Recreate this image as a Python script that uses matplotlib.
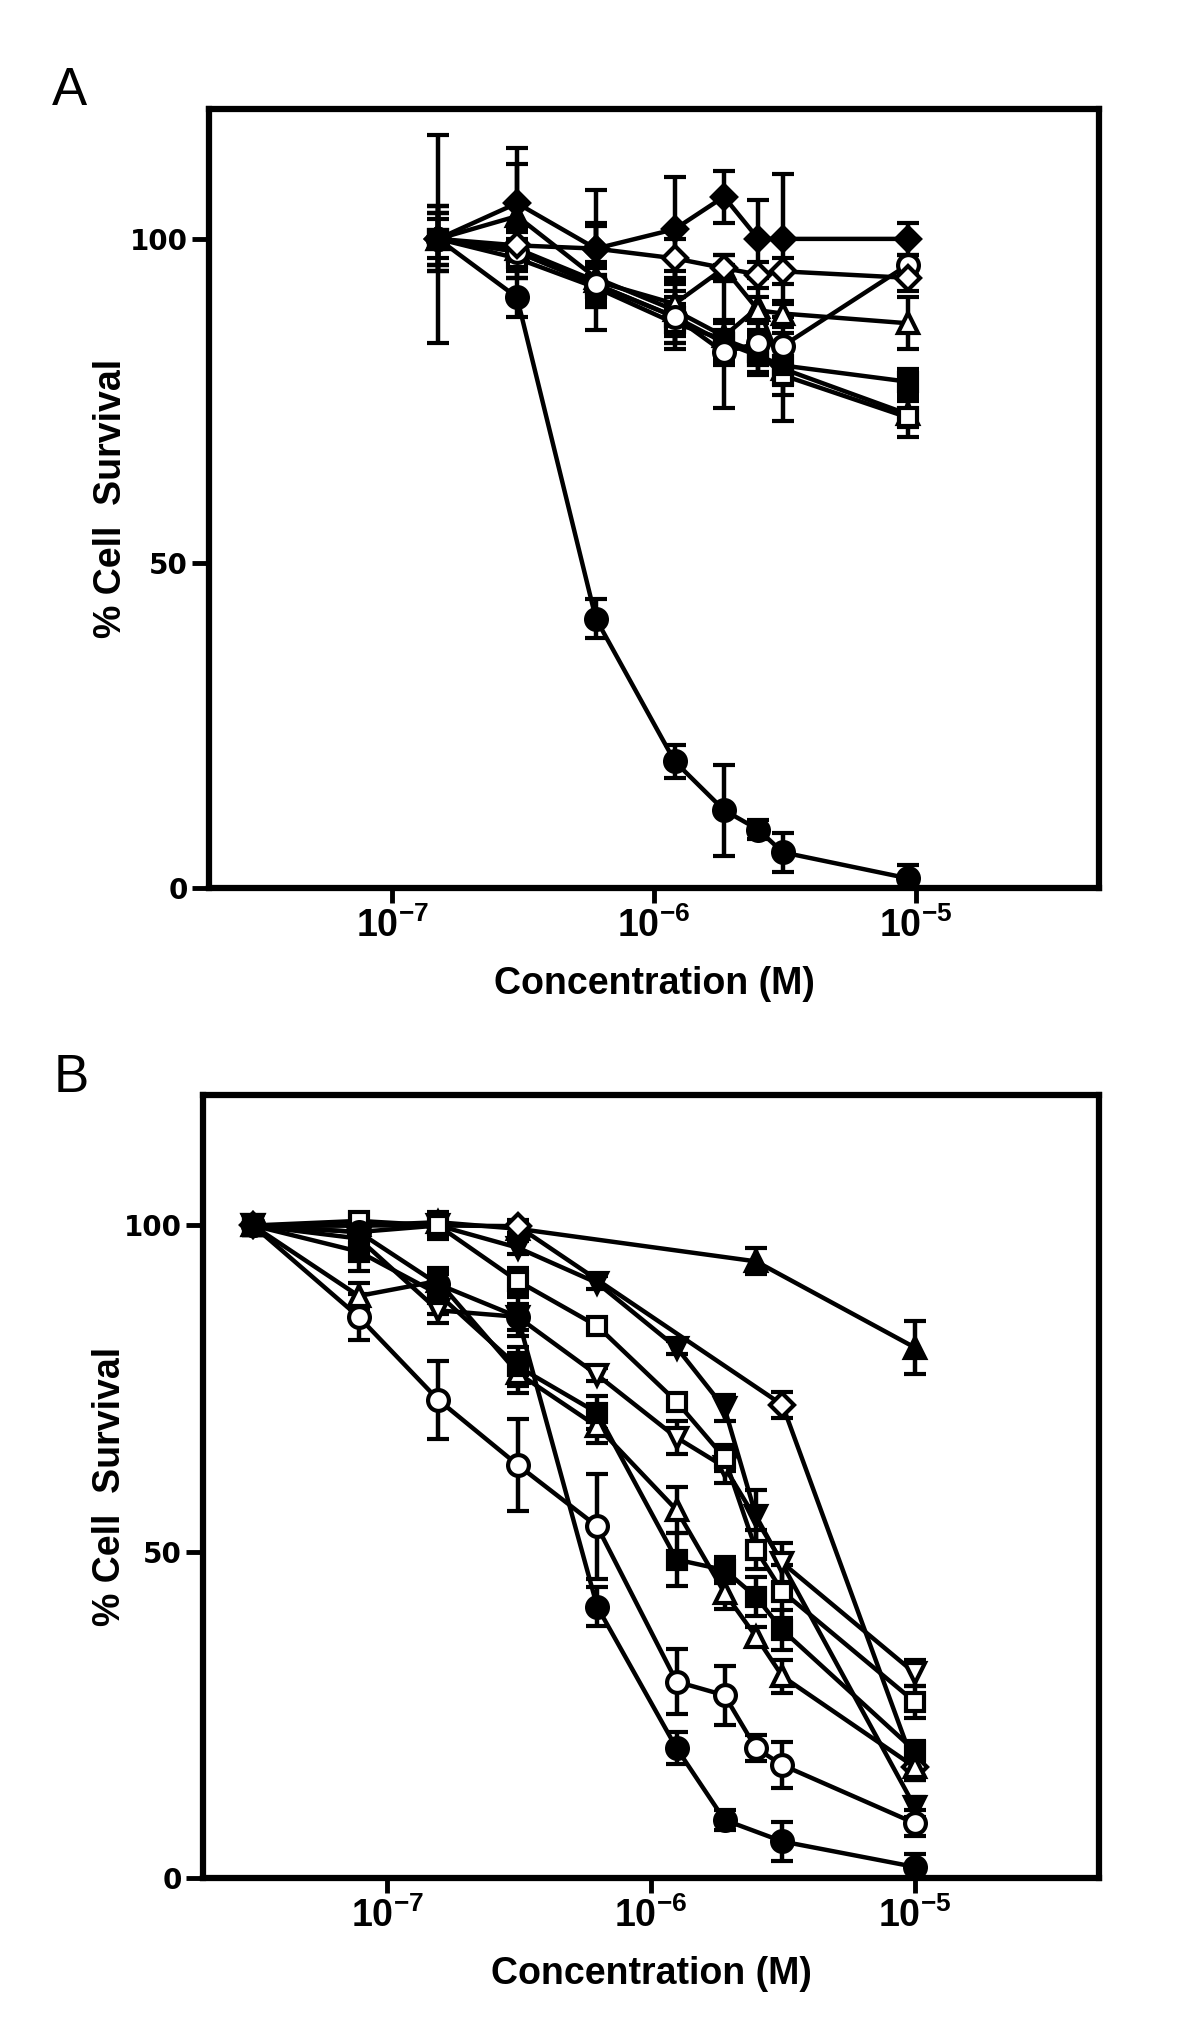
import numpy as np
import matplotlib
matplotlib.use('Agg')
import matplotlib.pyplot as plt

plt.rcParams['font.family'] = ['Liberation Sans', 'DejaVu Sans']
plt.rcParams['mathtext.fontset'] = 'custom'
plt.rcParams['mathtext.rm'] = 'Liberation Sans:bold'
plt.rcParams['mathtext.bf'] = 'Liberation Sans:bold'

nan = np.nan

# panel A: concentrations (M) and % survival per compound
conc_a = [1.5e-7, 3e-7, 6e-7, 1.2e-6, 1.85e-6, 2.5e-6, 3.1e-6, 9.3e-6]
a_circle_f = [100, 91, 41.5, 19.5, 12, 9, 5.5, 1.5]
a_circle_f_err = [3, 3, 3, 2.5, 7, 1.5, 3, 2]
a_diamond_f = [100, 105.5, 98.5, 101.5, 106.5, 100, 100, 100]
a_diamond_f_err = [16, 8.5, 9, 8, 4, 6, 10, 2.5]
a_diamond_o = [100, 99, 98.5, 97, 95.5, 94.5, 95, 94]
a_diamond_o_err = [4, 3, 4, 3, 2, 2, 2, 2]
a_circle_o = [100, 98, 93, 88, 82.5, 84, 83.5, 96]
a_circle_o_err = [4, 3, 3, 3, 2, 2, 2, 1.5]
a_tri_o = [100, 98.5, 93.5, 90, 95.5, 89, 88.5, 87]
a_tri_o_err = [4, 3, 3, 3, 2, 2, 2, 4]
a_square_f = [100, 98, 93, 88, 84, 82, 80.5, 78]
a_square_f_err = [5, 4, 3, 4, 3, 3, 3, 2]
a_square_o = [100, 97, 92.5, 87, 84.5, 82.5, 79, 72.5]
a_square_o_err = [5, 3, 3, 3, 3, 3, 3, 3]
a_tri_f = [100, 103.5, 94, 89, 85, 89.5, 80, 73]
a_tri_f_err = [5, 8, 8, 6, 11, 5, 8, 2]

# panel B
conc_b = [3.1e-8, 7.8e-8, 1.56e-7, 3.125e-7, 6.25e-7, 1.25e-6, 1.9e-6, 2.5e-6, 3.15e-6, 1e-5]
b_circle_f = [100, 99, 91, 86, 41.6, 19.9, 8.9, nan, 5.6, 1.7]
b_circle_f_err = [1.5, 2, 2, 3, 3, 2.5, 1.5, nan, 3, 2]
b_circle_o = [100, 86, 73.3, 63.3, 53.9, 30.1, 28, 19.9, 17.3, 8.4]
b_circle_o_err = [1.5, 3.5, 6, 7, 8, 5, 4.5, 2, 3.5, 2]
b_square_f = [100, 96, 89.5, 78.4, 71.3, 48.8, 47.2, 43.1, 38, 19.5]
b_square_f_err = [1.5, 3, 3, 3, 2.5, 4, 2, 3, 3, 1.5]
b_square_o = [100, 100.7, 100, 91.5, 84.6, 73, 64.4, 50.3, 43.9, 27]
b_square_o_err = [1, 1, 1.5, 2, 1, 1, 2, 3, 4, 2.5]
b_tri_o = [100, 89.2, 91.5, 77.4, 69.2, 56.4, 43.7, 37, 30.9, 17]
b_tri_o_err = [1.5, 2, 2, 3, 2.5, 3.5, 2.5, 1.5, 2.5, 2]
b_tridown_o = [100, 98, 87, 86, 77.1, 67.5, 63, nan, 48.3, 31.4]
b_tridown_o_err = [1, 2, 2, 2, 1, 2.5, 2.5, nan, 3, 2]
b_tridown_f = [100, 99, 100, 96.6, 91.2, 81.3, 72, 55.5, nan, 10.9]
b_tridown_f_err = [1, 1, 2, 1, 1, 1, 2, 4, nan, 1.5]
b_diamond_o = [100, 100, 100, 99.9, nan, nan, nan, nan, 72.5, 17]
b_diamond_o_err = [1, 1, 1, 1, nan, nan, nan, nan, 2, 2]
b_tri_f = [100, 100, 100.5, 99.5, nan, nan, nan, 94.5, nan, 81.3]
b_tri_f_err = [1, 1, 1, 1, nan, nan, nan, 2, nan, 4]

xticks = [1e-7, 1e-6, 1e-5]
xtick_labels = [r'$\mathbf{10^{-7}}$', r'$\mathbf{10^{-6}}$', r'$\mathbf{10^{-5}}$']
yticks = [0, 50, 100]


def draw(ax, x, y, e, marker, filled, ms=15):
    x = np.array(x)
    y = np.array(y, dtype=float)
    e = np.array(e, dtype=float)
    m = ~np.isnan(y)
    ax.errorbar(x[m], y[m], yerr=e[m], color='k', lw=3.2, elinewidth=3.2,
                capsize=8, capthick=3.2, marker=marker, ms=ms,
                mfc='k' if filled else 'white', mec='k', mew=3)


def style(ax, label_x):
    ax.set_xscale('log')
    ax.set_xlim(2e-8, 5e-5)
    ax.set_ylim(0, 120)
    ax.minorticks_off()
    ax.set_xticks(xticks)
    ax.set_xticklabels(xtick_labels, fontsize=27)
    ax.set_yticks(yticks)
    ax.set_yticklabels([str(t) for t in yticks], fontsize=20,
                       fontweight='bold', family='DejaVu Sans')
    ax.tick_params(axis='x', length=11, width=3.5, pad=3)
    ax.tick_params(axis='y', length=12, width=3.5, pad=3)
    for s in ax.spines.values():
        s.set_linewidth(4.5)
    ax.set_xlabel('Concentration (M)', fontsize=27, fontweight='bold')
    ax.set_ylabel('% Cell  Survival', fontsize=27, fontweight='bold')
    ax.xaxis.set_label_coords(0.5, -0.10)
    ax.yaxis.set_label_coords(label_x, 0.5)


fig = plt.figure(figsize=(12, 20.27), dpi=100)
ax_a = fig.add_axes([0.174, 0.5619, 0.742, 0.3843])
ax_b = fig.add_axes([0.169, 0.0735, 0.747, 0.3863])

draw(ax_a, conc_a, a_tri_f, a_tri_f_err, '^', True)
draw(ax_a, conc_a, a_square_o, a_square_o_err, 's', False, 13)
draw(ax_a, conc_a, a_square_f, a_square_f_err, 's', True, 13)
draw(ax_a, conc_a, a_tri_o, a_tri_o_err, '^', False)
draw(ax_a, conc_a, a_circle_o, a_circle_o_err, 'o', False)
draw(ax_a, conc_a, a_diamond_o, a_diamond_o_err, 'D', False, 12)
draw(ax_a, conc_a, a_diamond_f, a_diamond_f_err, 'D', True, 12)
draw(ax_a, conc_a, a_circle_f, a_circle_f_err, 'o', True)

draw(ax_b, conc_b, b_tri_f, b_tri_f_err, '^', True)
draw(ax_b, conc_b, b_diamond_o, b_diamond_o_err, 'D', False, 12)
draw(ax_b, conc_b, b_tridown_f, b_tridown_f_err, 'v', True)
draw(ax_b, conc_b, b_tridown_o, b_tridown_o_err, 'v', False)
draw(ax_b, conc_b, b_square_o, b_square_o_err, 's', False, 13)
draw(ax_b, conc_b, b_tri_o, b_tri_o_err, '^', False)
draw(ax_b, conc_b, b_square_f, b_square_f_err, 's', True, 13)
draw(ax_b, conc_b, b_circle_o, b_circle_o_err, 'o', False)
draw(ax_b, conc_b, b_circle_f, b_circle_f_err, 'o', True)

style(ax_a, -0.090)
style(ax_b, -0.083)

fig.text(52 / 1200, 1 - 105 / 2027, 'A', fontsize=38, family='Liberation Sans', va='baseline')
fig.text(54 / 1200, 1 - 1092 / 2027, 'B', fontsize=38, family='Liberation Sans', va='baseline')

fig.savefig('out.png', dpi=100)
